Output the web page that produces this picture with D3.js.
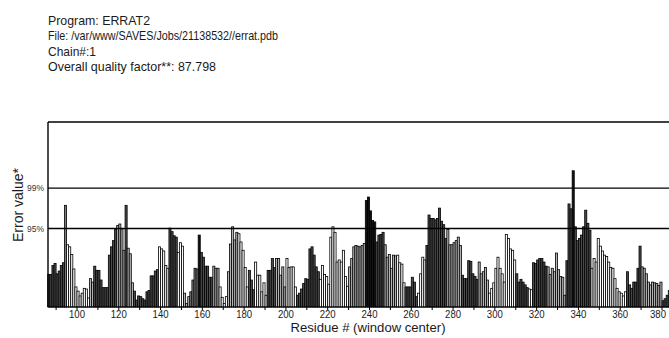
<!DOCTYPE html>
<html>
<head>
<meta charset="utf-8">
<script src="https://cdn.jsdelivr.net/npm/d3@7/dist/d3.min.js"></script>
<style>
  body { margin: 0; background: #fff; }
  svg { display: block; font-family: "Liberation Sans Narrow", "Arial Narrow", "Liberation Sans", Arial, sans-serif; }
</style>
</head>
<body>
<svg id="chart" width="669" height="338"></svg>
<script>
// header printed by ERRAT2 above the plot
const headerLines = [
    "Program: ERRAT2",
    "File: /var/www/SAVES/Jobs/21138532//errat.pdb",
    "Chain#:1",
    "Overall quality factor**: 87.798"
];

// error value per residue (window center), starting at residue 86
const firstResidue = 86;
const errorValues = [
    4.7, 4.7, 6.0, 6.3, 4.8, 5.2, 6.0, 6.4, 14.7, 9.0, 8.7, 7.6, 5.5, 2.9, 2.3, 1.6, 2.0, 2.7, 2.6, 1.3,
    4.1, 3.6, 5.9, 5.3, 5.3, 3.9, 2.8, 2.8, 2.8, 7.5, 8.7, 9.6, 11.2, 11.8, 12.0, 11.3, 8.2, 14.7, 8.5, 7.7,
    3.5, 2.3, 1.0, 1.6, 1.5, 1.2, 1.0, 2.2, 2.4, 4.5, 4.5, 5.2, 5.4, 8.7, 8.4, 8.1, 6.0, 5.6, 11.4, 10.9,
    10.3, 10.1, 7.9, 9.3, 8.8, 2.0, 0.5, 1.5, 2.2, 3.9, 5.6, 5.5, 10.4, 7.9, 7.2, 5.9, 5.9, 4.3, 4.3, 5.9,
    5.6, 5.6, 2.9, 1.4, 0.5, 1.5, 5.1, 9.1, 11.6, 9.7, 10.8, 10.6, 9.4, 8.2, 5.7, 2.9, 5.3, 3.9, 2.5, 6.5,
    4.6, 4.6, 2.2, 3.5, 1.7, 5.3, 5.3, 7.0, 5.7, 7.0, 7.0, 4.6, 5.8, 2.9, 7.0, 5.7, 5.8, 5.8, 2.9, 1.7,
    2.0, 2.6, 3.4, 4.1, 4.0, 8.4, 8.7, 7.5, 5.8, 5.1, 4.0, 6.0, 4.7, 4.4, 3.3, 10.1, 11.6, 10.8, 6.5, 6.8,
    6.5, 8.2, 4.4, 3.0, 5.8, 7.0, 8.7, 8.9, 8.8, 8.7, 8.9, 9.2, 15.4, 15.9, 13.9, 12.5, 12.3, 9.4, 10.4, 10.5,
    10.8, 9.0, 7.2, 7.6, 5.6, 7.5, 7.4, 7.5, 6.4, 6.2, 3.5, 2.9, 2.9, 2.9, 4.3, 3.6, 1.5, 2.0, 4.8, 7.2,
    6.8, 8.9, 13.3, 12.8, 12.8, 12.6, 12.8, 14.3, 12.4, 11.9, 9.9, 11.2, 9.0, 9.0, 9.3, 9.6, 10.1, 8.9, 4.6, 4.1,
    4.1, 6.7, 6.6, 4.8, 4.4, 4.0, 6.5, 4.8, 5.1, 5.7, 3.9, 2.0, 2.7, 3.5, 5.6, 7.2, 5.6, 4.8, 3.6, 10.5,
    9.9, 8.4, 8.2, 6.8, 4.8, 3.6, 4.0, 3.6, 3.2, 2.8, 2.6, 2.5, 6.4, 6.3, 6.8, 7.0, 7.0, 6.5, 5.9, 5.8,
    4.7, 5.6, 5.1, 7.8, 5.4, 4.4, 4.3, 1.7, 6.7, 14.9, 14.2, 19.7, 11.6, 9.6, 9.9, 10.4, 11.6, 14.0, 12.1, 11.1,
    5.6, 7.0, 6.5, 9.9, 8.8, 8.1, 7.5, 7.3, 6.5, 5.7, 5.6, 4.1, 2.7, 2.2, 2.0, 1.6, 2.2, 5.1, 3.2, 2.7,
    3.6, 3.6, 5.6, 8.8, 5.8, 5.6, 4.8, 3.6, 3.2, 3.6, 3.5, 3.4, 3.1, 3.6, 0.9, 1.2, 1.7, 2.4
];

// grey tone group of the bars: [first residue of the run, tone 0 (black) .. 4 (white)]
const toneRuns = [
    [86, 1], [94, 2], [95, 4], [106, 3], [108, 1], [119, 3], [123, 1], [124, 3], [127, 1], [139, 4],
    [144, 1], [148, 4], [151, 3], [154, 2], [158, 0], [159, 1], [165, 3], [168, 4], [172, 3], [177, 4],
    [182, 1], [185, 4], [191, 1], [195, 3], [200, 4], [205, 1], [216, 4], [230, 3], [238, 0], [243, 1],
    [247, 3], [253, 4], [257, 1], [263, 4], [267, 1], [277, 3], [284, 1], [292, 3], [297, 4], [310, 1],
    [316, 4], [318, 1], [325, 3], [334, 1], [337, 0], [338, 1], [346, 4], [363, 1], [370, 3], [380, 1]
];
const toneColors = ["#111111", "#4a4a4a", "#7d7d7d", "#b4b4b4", "#ffffff"];

// confidence limits drawn across the plot
const limits = [
    { label: "95%", value: 11.36 },
    { label: "99%", value: 17.19 }
];

const minorTicks = [90, 110, 130, 150, 170, 190, 210, 230, 250, 270, 290, 310, 330, 350, 370];
const tickLabels = [100, 120, 140, 160, 180, 200, 220, 240, 260, 280, 300, 320, 340, 360, 380];

const svg = d3.select('#chart');
const x = d3.scaleLinear().domain([100, 380]).range([77, 662]);
const y = d3.scaleLinear().domain([0, 26.75]).range([307, 122]);
const barW = x(1) - x(0);

function toneOf(residue) {
    let t = toneRuns[0][1];
    toneRuns.forEach(run => { if (run[0] <= residue) t = run[1]; });
    return t;
}

const bars = errorValues.map((v, i) => ({
    residue: firstResidue + i,
    value: v,
    tone: toneOf(firstResidue + i)
}));

// header text
svg.append('g')
    .selectAll('text')
    .data(headerLines)
    .enter().append('text')
    .attr('x', 48)
    .attr('y', (d, i) => 25 + i * 15.3)
    .attr('font-size', 13.5)
    .attr('fill', '#1a1a1a')
    .attr('textLength', (d, i) => [102, 230, 48, 168][i])
    .attr('lengthAdjust', 'spacingAndGlyphs')
    .text(d => d);

// bars
svg.append('g')
    .selectAll('rect')
    .data(bars)
    .enter().append('rect')
    .attr('x', d => x(d.residue))
    .attr('y', d => y(d.value))
    .attr('width', barW)
    .attr('height', d => y(0) - y(d.value))
    .attr('fill', d => toneColors[d.tone])
    .attr('stroke', '#000')
    .attr('stroke-width', 0.8);

// frame and limit lines
const frame = svg.append('g').attr('stroke', '#000').attr('fill', 'none');
frame.append('line').attr('x1', 48).attr('x2', 700).attr('y1', y.range()[1]).attr('y2', y.range()[1]).attr('stroke-width', 1.4);
frame.append('line').attr('x1', 48).attr('x2', 48).attr('y1', y.range()[1]).attr('y2', y(0)).attr('stroke-width', 1.4);
frame.append('line').attr('x1', 48).attr('x2', 700).attr('y1', y(0)).attr('y2', y(0)).attr('stroke-width', 1);

frame.selectAll('.limit')
    .data(limits)
    .enter().append('line')
    .attr('class', 'limit')
    .attr('x1', 48).attr('x2', 700)
    .attr('y1', d => y(d.value)).attr('y2', d => y(d.value))
    .attr('stroke-width', 1.4);

svg.append('g')
    .selectAll('text')
    .data(limits)
    .enter().append('text')
    .attr('x', 44)
    .attr('y', d => y(d.value))
    .attr('dy', '0.35em')
    .attr('text-anchor', 'end')
    .attr('font-size', 9)
    .attr('fill', '#333')
    .attr('textLength', 17)
    .attr('lengthAdjust', 'spacingAndGlyphs')
    .text(d => d.label);

// x axis ticks every 10, labels every 20
const axis = svg.append('g').attr('transform', `translate(0,${y(0)})`);
axis.selectAll('line')
    .data(minorTicks.concat(tickLabels))
    .enter().append('line')
    .attr('x1', d => x(d)).attr('x2', d => x(d))
    .attr('y1', 0).attr('y2', 3)
    .attr('stroke', '#000');

axis.selectAll('text')
    .data(tickLabels)
    .enter().append('text')
    .attr('x', d => Math.min(x(d), 658))
    .attr('y', 10.5)
    .attr('text-anchor', 'middle')
    .attr('font-size', 11.5)
    .attr('fill', '#1a1a1a')
    .attr('textLength', 16)
    .attr('lengthAdjust', 'spacingAndGlyphs')
    .text(d => d);

svg.append('text')
    .attr('x', 368)
    .attr('y', 332)
    .attr('text-anchor', 'middle')
    .attr('font-size', 13)
    .attr('fill', '#1a1a1a')
    .attr('textLength', 155)
    .attr('lengthAdjust', 'spacingAndGlyphs')
    .text('Residue # (window center)');

svg.append('text')
    .attr('transform', 'translate(22.5,205) rotate(-90)')
    .attr('text-anchor', 'middle')
    .attr('font-size', 14)
    .attr('fill', '#1a1a1a')
    .attr('textLength', 74)
    .attr('lengthAdjust', 'spacingAndGlyphs')
    .text('Error value*');
</script>
</body>
</html>
